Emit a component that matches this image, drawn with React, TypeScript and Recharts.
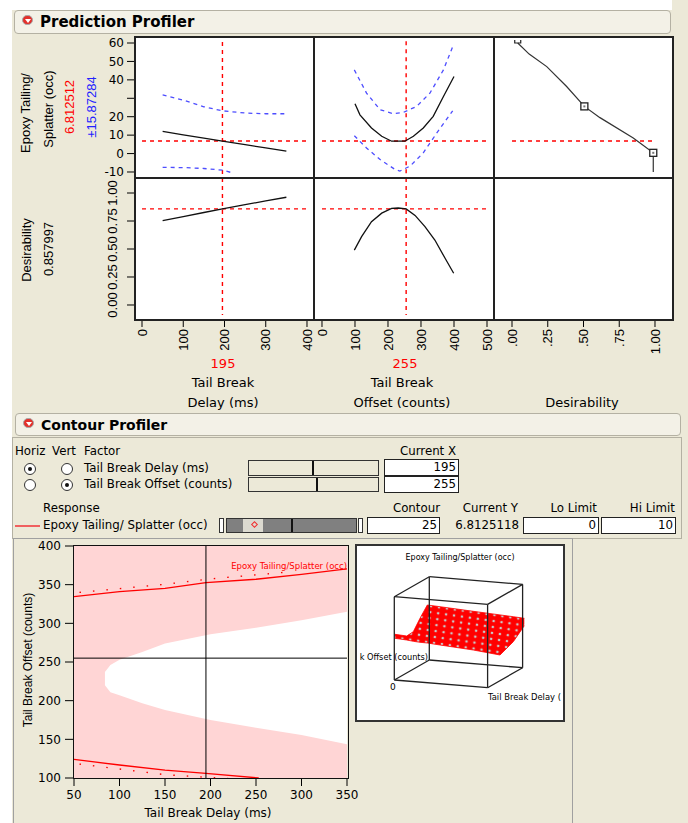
import React from "react";
import {
  LineChart,
  Line,
  XAxis,
  YAxis,
  ComposedChart,
  Area,
  ReferenceArea,
  ReferenceLine,
} from "recharts";

const BEIGE = "#ECE9D8";
const FONT = "'DejaVu Sans', sans-serif";
const NARROW = "'Liberation Sans', Arial, sans-serif";
const RED = "#FF0000";
const BLUE = "#4D4DFF";

// ---- prediction profiler values ----
const currentDelay = 195;
const currentOffset = 255;
const currentEpoxy = 6.812512;
const epoxyCI = 15.87284;
const currentDesir = 0.857997;

const delayTicks = [0, 100, 200, 300, 400];
const offsetTicks = [0, 100, 200, 300, 400, 500];
const desirTicks = [0, 0.25, 0.5, 0.75, 1];
const epoxyTicks = [-10, 0, 10, 20, 30, 40, 50, 60];
const dTicks = [0, 0.25, 0.5, 0.75, 1];

type Pt = { x: number; y: number };

// epoxy vs delay
const delayPred: Pt[] = [
  { x: 50, y: 12 }, { x: 100, y: 10.1 }, { x: 150, y: 8.4 }, { x: 195, y: 6.8 },
  { x: 250, y: 4.8 }, { x: 300, y: 3.1 }, { x: 350, y: 1.3 },
];
const delayUpper: Pt[] = [
  { x: 50, y: 31.9 }, { x: 100, y: 29 }, { x: 150, y: 25.4 }, { x: 195, y: 23.2 },
  { x: 250, y: 22 }, { x: 300, y: 21.6 }, { x: 345, y: 21.6 },
];
const delayLower: Pt[] = [
  { x: 50, y: -7.5 }, { x: 100, y: -7.6 }, { x: 150, y: -8.1 }, { x: 195, y: -9 }, { x: 220, y: -10.5 },
];

// epoxy vs offset
const offsetPred: Pt[] = [
  { x: 100, y: 27 }, { x: 115, y: 21 }, { x: 150, y: 13.9 }, { x: 181, y: 9.4 }, { x: 211, y: 6.7 },
  { x: 251, y: 6.7 }, { x: 277, y: 9.4 }, { x: 307, y: 13.9 }, { x: 337, y: 20.2 }, { x: 368, y: 31 },
  { x: 400, y: 41.8 },
];
const offsetUpper: Pt[] = [
  { x: 98, y: 45.4 }, { x: 135, y: 32.8 }, { x: 176, y: 23.8 }, { x: 216, y: 21.6 }, { x: 246, y: 22.3 },
  { x: 287, y: 25.6 }, { x: 327, y: 32.8 }, { x: 368, y: 45.4 }, { x: 396, y: 58 },
];
const offsetLower: Pt[] = [
  { x: 98, y: 9.7 }, { x: 135, y: 3 }, { x: 176, y: -3.2 }, { x: 221, y: -8.6 }, { x: 236, y: -9.5 },
  { x: 267, y: -6.8 }, { x: 307, y: 0.4 }, { x: 348, y: 11.2 }, { x: 396, y: 23.2 },
];

// desirability function (response vs desirability)
const desirCurve: Pt[] = [
  { x: 0.04, y: 60 }, { x: 0.12, y: 54 }, { x: 0.243, y: 47.2 }, { x: 0.382, y: 36.4 },
  { x: 0.506, y: 25.6 }, { x: 0.615, y: 19.5 }, { x: 0.848, y: 8.5 }, { x: 0.988, y: 0.4 },
  { x: 0.988, y: -10 },
];
const desirHandles = [
  { x: 0.04, y: 60, k: "end" },
  { x: 0.506, y: 25.6, k: "mid" },
  { x: 0.988, y: 0.4, k: "mid" },
];

// desirability vs factors
const delayDesir: Pt[] = [
  { x: 50, y: 0.753 }, { x: 100, y: 0.79 }, { x: 150, y: 0.826 }, { x: 195, y: 0.858 },
  { x: 250, y: 0.896 }, { x: 300, y: 0.929 }, { x: 350, y: 0.962 },
];
const offsetDesir: Pt[] = [
  { x: 98, y: 0.49 }, { x: 120, y: 0.61 }, { x: 150, y: 0.744 }, { x: 181, y: 0.82 }, { x: 211, y: 0.862 },
  { x: 231, y: 0.866 }, { x: 255, y: 0.858 }, { x: 282, y: 0.8 }, { x: 312, y: 0.7 }, { x: 342, y: 0.58 },
  { x: 373, y: 0.417 }, { x: 399, y: 0.283 },
];

// ---- contour profiler values ----
const cDelayTicks = [50, 100, 150, 200, 250, 300, 350];
const cOffsetTicks = [100, 150, 200, 250, 300, 350, 400];
const whiteX = [84, 90, 100, 125, 150, 200, 250, 300, 350];
const whiteLo = [220, 211, 207, 196.6, 188, 175, 165, 155.6, 143.6];
const whiteHi = [237, 246, 253, 263, 274, 286, 294.4, 304, 315];
const contourHi: Pt[] = [
  { x: 50, y: 334.5 }, { x: 100, y: 341 }, { x: 150, y: 345.3 }, { x: 195, y: 352.6 },
  { x: 250, y: 357 }, { x: 300, y: 363.4 }, { x: 350, y: 370.3 },
];
const contourHiTicks: Pt[] = [{ x: 56, y: 340 }, { x: 150, y: 350.5 }, { x: 200, y: 357.5 }, { x: 282, y: 366 }];
const contourLo: Pt[] = [
  { x: 50, y: 124 }, { x: 100, y: 116.8 }, { x: 150, y: 110.3 }, { x: 195, y: 106 }, { x: 253, y: 100 },
];
const contourLoTicks: Pt[] = [{ x: 56, y: 118 }, { x: 150, y: 104.3 }, { x: 222, y: 99 }];
const contourLevel = 25;
const currentY = "6.8125118";
const loLimit = 0;
const hiLimit = 10;

// ---- 3D surface thumbnail (projected) ----
const cubeOrigin = [39.3, 136];
const eDelay = [93.3, 7.7];
const eOffset = [35, -20];
const eResp = [0, -83.3];
const cubeEdges = [
  [[0, 0, 0], [1, 0, 0]], [[0, 1, 0], [1, 1, 0]], [[0, 0, 1], [1, 0, 1]], [[0, 1, 1], [1, 1, 1]],
  [[0, 0, 0], [0, 1, 0]], [[1, 0, 0], [1, 1, 0]], [[0, 0, 1], [0, 1, 1]], [[1, 0, 1], [1, 1, 1]],
  [[0, 0, 0], [0, 0, 1]], [[1, 0, 0], [1, 0, 1]], [[0, 1, 0], [0, 1, 1]], [[1, 1, 0], [1, 1, 1]],
];
const surfX = [40, 51.7, 58.3, 65, 72.3, 85, 118.3, 145, 158.3, 169.3];
const surfTop = [90.3, 92, 87.7, 74.3, 61, 62.7, 67.3, 70.9, 72.7, 74.3];
const surfBot = [94.3, 96, 97.3, 98.3, 99, 101, 106, 111, 97.7, 81.7];

const proj = (p: number[]) => ({
  x: cubeOrigin[0] + p[0] * eDelay[0] + p[1] * eOffset[0] + p[2] * eResp[0],
  y: cubeOrigin[1] + p[0] * eDelay[1] + p[1] * eOffset[1] + p[2] * eResp[1],
});

// ---- layout ----
const COLS = [{ left: 135, w: 179 }, { left: 314, w: 180 }, { left: 494, w: 179 }];
const ROWS = [{ top: 37, h: 141 }, { top: 178, h: 142 }];
const YW = 60;
const XH = 40;
const delayDomain = [-17, 417];
const offsetDomain = [-24.2, 521.2];
const desirDomain = [-0.126, 1.126];
const epoxyDomain = [-13.26, 63.26];
const dDomain = [-0.134, 1.134];

const line = (key: string, data: Pt[], stroke: string, dash?: string, width = 1.3) => (
  <Line
    key={key}
    data={data}
    dataKey="y"
    type="linear"
    stroke={stroke}
    strokeDasharray={dash}
    strokeWidth={width}
    dot={false}
    isAnimationActive={false}
  />
);

function XVTick(props: any) {
  const { x, y, payload, fmt } = props;
  return (
    <text x={x} y={y} transform={`rotate(-90 ${x} ${y})`} textAnchor="end" dy="0.36em"
      fontSize={13} fontFamily={NARROW} fill="#000">
      {fmt(payload.value)}
    </text>
  );
}

function YVTick(props: any) {
  const { x, y, payload } = props;
  const tx = x - 12;
  return (
    <text x={tx} y={y} transform={`rotate(-90 ${tx} ${y})`} textAnchor="middle" dy="0.36em"
      fontSize={13} fontFamily={NARROW} fill="#000">
      {payload.value.toFixed(2)}
    </text>
  );
}

function Handle(props: any) {
  const { cx, cy, payload } = props;
  if (payload.k === "end") {
    return <path d={`M${cx - 3},${cy - 3} v3 h6 v-3`} stroke="#222" fill="none" strokeWidth={1.2} />;
  }
  return (
    <g>
      <rect x={cx - 3.5} y={cy - 3.5} width={7} height={7} fill="#fff" stroke="#222" strokeWidth={1.3} />
      <rect x={cx - 1} y={cy - 1} width={2} height={2} fill="#777" />
    </g>
  );
}

function Cell({ col, row, xDomain, xTicks, xFmt, children }: any) {
  const c = COLS[col];
  const r = ROWS[row];
  const yw = col === 0 ? YW : 0;
  const xh = row === 1 ? XH : 0;
  return (
    <div style={{ position: "absolute", left: c.left - yw, top: r.top }}>
      <LineChart width={c.w + yw} height={r.h + xh} margin={{ top: 0, right: 0, bottom: 0, left: 0 }}>
        <XAxis
          type="number"
          dataKey="x"
          domain={xDomain}
          allowDataOverflow
          ticks={xTicks}
          interval={0}
          hide={row === 0}
          height={xh || 30}
          axisLine={false}
          tickSize={7}
          tickLine={{ stroke: "#000" }}
          tick={(p: any) => <XVTick {...p} fmt={xFmt} />}
        />
        <YAxis
          type="number"
          dataKey="y"
          domain={row === 0 ? epoxyDomain : dDomain}
          allowDataOverflow
          ticks={row === 0 ? epoxyTicks : dTicks}
          interval={0}
          hide={col !== 0}
          width={yw || 60}
          axisLine={false}
          tickSize={8}
          tickMargin={3}
          tickLine={{ stroke: "#000" }}
          tick={row === 0 ? { fontSize: 12, fill: "#000" } : (p: any) => <YVTick {...p} />}
          tickFormatter={(v: number) => (v === 30 ? "" : String(v))}
        />
        {children}
      </LineChart>
    </div>
  );
}

function HText({ x, y, size = 11.8, color = "#000", align = "left", weight = 400, font = FONT, children }: any) {
  const tx = align === "left" ? "0" : align === "center" ? "-50%" : "-100%";
  return (
    <div style={{
      position: "absolute", left: x, top: y, transform: `translate(${tx},-50%)`, fontSize: size, color,
      fontWeight: weight, fontFamily: font, whiteSpace: "nowrap", lineHeight: 1,
    }}>
      {children}
    </div>
  );
}

function VLabel({ x, y, size = 13, color = "#000", children }: any) {
  return (
    <div style={{
      position: "absolute", left: x, top: y, transform: "translate(-50%,-50%) rotate(-90deg)", fontSize: size,
      color, fontFamily: NARROW, whiteSpace: "nowrap", lineHeight: 1,
    }}>
      {children}
    </div>
  );
}

function Header({ x, y, w, h, title, size }: any) {
  return (
    <div style={{
      position: "absolute", left: x, top: y, width: w, height: h, boxSizing: "border-box",
      border: "1px solid #B4B1A3", borderRadius: 4, background: "#F3F1E7",
    }}>
      <div style={{
        position: "absolute", left: 7, top: 4, width: 11, height: 10, borderRadius: 5,
        background: "#E3302B", border: "1px solid #A8A8A8", boxSizing: "border-box",
      }}>
        <div style={{
          position: "absolute", left: 1.5, top: 2.5, width: 0, height: 0,
          borderLeft: "3.5px solid transparent", borderRight: "3.5px solid transparent", borderTop: "4px solid #fff",
        }} />
      </div>
      <HText x={25} y={h / 2 - 1} size={size} weight={700}>{title}</HText>
    </div>
  );
}

function Box({ x, y, w, h, children }: any) {
  return (
    <div style={{
      position: "absolute", left: x, top: y, width: w, height: h, boxSizing: "border-box",
      border: "1px solid #222", background: "#fff", fontSize: 11.8, textAlign: "right",
      paddingRight: 2, lineHeight: `${h - 2}px`, fontFamily: FONT,
    }}>
      {children}
    </div>
  );
}

function Slider({ x, y, w, h, mark }: any) {
  return (
    <div style={{
      position: "absolute", left: x, top: y, width: w, height: h, boxSizing: "border-box",
      border: "1px solid #333", background: BEIGE,
    }}>
      <div style={{ position: "absolute", left: mark - x - 1, top: 0, width: 2, height: h - 2, background: "#111" }} />
    </div>
  );
}

function Radio({ x, y, on }: any) {
  return (
    <div style={{
      position: "absolute", left: x - 6, top: y - 6, width: 12, height: 12, borderRadius: 6,
      border: "1px solid #333", background: "#fff", boxSizing: "border-box",
    }}>
      {on && <div style={{ position: "absolute", left: 3, top: 3, width: 4, height: 4, borderRadius: 2, background: "#111" }} />}
    </div>
  );
}

const vRed = (key: string, x: number, y1: number, y2: number) =>
  line(key, [{ x, y: y1 }, { x, y: y2 }], RED, "4 4", 1.4);
const hRed = (key: string, y: number, x1: number, x2: number) =>
  line(key, [{ x: x1, y }, { x: x2, y }], RED, "4 4", 1.4);

const fmtInt = (v: number) => String(v);
const fmtDesir = (v: number) => (v === 1 ? "1.00" : v.toFixed(2).replace(/^0/, ""));

export default function App() {
  const whiteData = whiteX.map((x, i) => ({ x, range: [whiteLo[i], whiteHi[i]] }));
  const surfData = surfX.map((x, i) => ({ x, range: [surfTop[i], surfBot[i]] }));
  const edgeData = cubeEdges.map((e) => e.map(proj));

  return (
    <div style={{
      position: "absolute", left: 0, top: 0, width: 688, height: 823, background: "#fff",
      overflow: "hidden", fontFamily: FONT, color: "#000",
    }}>
      <div style={{ position: "absolute", left: 12, top: 10, width: 676, height: 813, background: BEIGE }} />
      <div style={{ position: "absolute", left: 672, top: 0, width: 16, height: 10, background: BEIGE }} />

      <Header x={14} y={10} w={657} h={24} title="Prediction Profiler" size={15} />

      {/* profiler cells */}
      <div style={{ position: "absolute", left: 135, top: 37, width: 538, height: 283, background: "#fff" }} />

      <Cell col={0} row={0} xDomain={delayDomain} xTicks={delayTicks} xFmt={fmtInt}>
        {hRed("h", currentEpoxy, 0, 400)}
        {vRed("v", currentDelay, 60.5, epoxyDomain[0])}
        {line("u", delayUpper, BLUE, "4 4")}
        {line("l", delayLower, BLUE, "4 4")}
        {line("p", delayPred, "#111")}
      </Cell>
      <Cell col={1} row={0} xDomain={offsetDomain} xTicks={offsetTicks} xFmt={fmtInt}>
        {hRed("h", currentEpoxy, 0, 500)}
        {vRed("v", currentOffset, 61, epoxyDomain[0])}
        {line("u", offsetUpper, BLUE, "4 4")}
        {line("l", offsetLower, BLUE, "4 4")}
        {line("p", offsetPred, "#111")}
      </Cell>
      <Cell col={2} row={0} xDomain={desirDomain} xTicks={desirTicks} xFmt={fmtDesir}>
        {hRed("h", currentEpoxy, 0, 1)}
        {line("d", desirCurve, "#333", undefined, 1.2)}
        <Line key="hd" data={desirHandles} dataKey="y" stroke="none" dot={(p: any) => <Handle key={p.index} {...p} />} isAnimationActive={false} />
      </Cell>
      <Cell col={0} row={1} xDomain={delayDomain} xTicks={delayTicks} xFmt={fmtInt}>
        {hRed("h", currentDesir, 0, 400)}
        {vRed("v", currentDelay, dDomain[1], -0.09)}
        {line("p", delayDesir, "#111")}
      </Cell>
      <Cell col={1} row={1} xDomain={offsetDomain} xTicks={offsetTicks} xFmt={fmtInt}>
        {hRed("h", currentDesir, 0, 500)}
        {vRed("v", currentOffset, dDomain[1], -0.09)}
        {line("p", offsetDesir, "#111")}
      </Cell>
      <Cell col={2} row={1} xDomain={desirDomain} xTicks={desirTicks} xFmt={fmtDesir}>
        {line("e", [{ x: 0, y: -1 }, { x: 1, y: -1 }], "none")}
      </Cell>

      {/* cell frame */}
      <div style={{ position: "absolute", left: 134, top: 36, width: 540, height: 285, border: "2px solid #222", boxSizing: "border-box" }} />
      <div style={{ position: "absolute", left: 313, top: 37, width: 2, height: 283, background: "#222" }} />
      <div style={{ position: "absolute", left: 493, top: 37, width: 2, height: 283, background: "#222" }} />
      <div style={{ position: "absolute", left: 135, top: 177, width: 538, height: 2, background: "#222" }} />

      {/* profiler labels */}
      <VLabel x={25} y={113}>Epoxy Tailing/</VLabel>
      <VLabel x={47.5} y={109}>Splatter (occ)</VLabel>
      <VLabel x={68.5} y={107} color={RED}>{currentEpoxy.toFixed(6)}</VLabel>
      <VLabel x={91} y={107} color="#2222FF">±{epoxyCI}</VLabel>
      <VLabel x={25.5} y={250}>Desirability</VLabel>
      <VLabel x={47.5} y={249}>{currentDesir}</VLabel>

      <HText x={223} y={363} size={13} color={RED} align="center">{currentDelay}</HText>
      <HText x={223} y={382} size={13} align="center">Tail Break</HText>
      <HText x={223} y={402} size={13} align="center">Delay (ms)</HText>
      <HText x={405} y={363} size={13} color={RED} align="center">{currentOffset}</HText>
      <HText x={402} y={382} size={13} align="center">Tail Break</HText>
      <HText x={402} y={402} size={13} align="center">Offset (counts)</HText>
      <HText x={582} y={402} size={13} align="center">Desirability</HText>

      {/* contour profiler */}
      <Header x={15} y={413} w={666} h={23} title="Contour Profiler" size={14} />
      <div style={{ position: "absolute", left: 12, top: 437, width: 670, height: 102, border: "1px solid #B4B1A3", boxSizing: "border-box" }} />

      <HText x={15} y={452}>Horiz</HText>
      <HText x={52} y={452}>Vert</HText>
      <HText x={84} y={452}>Factor</HText>
      <HText x={428} y={452} align="center">Current X</HText>

      <Radio x={30} y={469} on />
      <Radio x={67} y={469} />
      <Radio x={30} y={485} />
      <Radio x={67} y={485} on />
      <HText x={84} y={469}>Tail Break Delay (ms)</HText>
      <HText x={84} y={485}>Tail Break Offset (counts)</HText>
      <Slider x={248} y={460} w={131} h={16} mark={312} />
      <Slider x={248} y={477} w={131} h={15} mark={316} />
      <Box x={384} y={459} w={75} h={17}>{currentDelay}</Box>
      <Box x={384} y={476} w={75} h={17}>{currentOffset}</Box>

      <HText x={43} y={509}>Response</HText>
      <HText x={440} y={509} align="right">Contour</HText>
      <HText x={518} y={509} align="right">Current Y</HText>
      <HText x={597} y={509} align="right">Lo Limit</HText>
      <HText x={675} y={509} align="right">Hi Limit</HText>

      <div style={{ position: "absolute", left: 15, top: 525, width: 25, height: 2, background: "#F06060" }} />
      <HText x={43} y={526}>Epoxy Tailing/ Splatter (occ)</HText>
      <div style={{ position: "absolute", left: 219, top: 518, width: 5, height: 15, border: "1px solid #333", background: "#fff", boxSizing: "border-box" }} />
      <div style={{ position: "absolute", left: 226, top: 518, width: 131, height: 15, border: "1px solid #333", background: "#808080", boxSizing: "border-box" }}>
        <div style={{ position: "absolute", left: 16, top: 0, width: 20, height: 13, background: "#DCDAD0" }} />
        <div style={{ position: "absolute", left: 25, top: 3, width: 5, height: 5, border: "1.3px solid #F03030", transform: "rotate(45deg)", boxSizing: "border-box" }} />
        <div style={{ position: "absolute", left: 64, top: 0, width: 2, height: 13, background: "#111" }} />
      </div>
      <div style={{ position: "absolute", left: 358, top: 518, width: 5, height: 15, border: "1px solid #333", background: "#fff", boxSizing: "border-box" }} />
      <Box x={367} y={517} w={73} h={17}>{contourLevel}</Box>
      <HText x={519} y={526} align="right">{currentY}</HText>
      <Box x={523} y={517} w={76} h={17}>{loLimit}</Box>
      <Box x={601} y={517} w={75} h={17}>{hiLimit}</Box>

      {/* lower frame */}
      <div style={{ position: "absolute", left: 13, top: 538, width: 560, height: 290, border: "1px solid #A0A0A0", boxSizing: "border-box" }} />

      {/* contour plot */}
      <div style={{ position: "absolute", left: 18, top: 538 }}>
        <ComposedChart width={341} height={270} margin={{ top: 8, right: 12, bottom: 0, left: 0 }}>
          <XAxis type="number" dataKey="x" domain={[50, 350]} allowDataOverflow ticks={cDelayTicks} interval={0}
            height={30} axisLine={false} tickSize={8} tickMargin={4} tickLine={{ stroke: "#000" }}
            tick={{ fontSize: 12, fill: "#000" }} />
          <YAxis type="number" domain={[100, 400]} allowDataOverflow ticks={cOffsetTicks} interval={0}
            width={56} axisLine={false} tickSize={9} tickMargin={4} tickLine={{ stroke: "#000" }}
            tick={{ fontSize: 12, fill: "#000" }} />
          <ReferenceArea x1={50} x2={350} y1={100} y2={400} fill="#FFD5D5" fillOpacity={1} stroke="none" ifOverflow="visible" />
          <Area data={whiteData} dataKey="range" type="linear" fill="#fff" fillOpacity={1} stroke="none" isAnimationActive={false} />
          {line("ch", contourHi, RED, undefined, 1.3)}
          {line("cht", contourHiTicks, RED, "1.5 12", 1.4)}
          {line("cl", contourLo, RED, undefined, 1.3)}
          {line("clt", contourLoTicks, RED, "1.5 12", 1.4)}
          <ReferenceLine x={currentDelay} stroke="#000" strokeWidth={1} />
          <ReferenceLine y={currentOffset} stroke="#000" strokeWidth={1} />
        </ComposedChart>
      </div>
      <div style={{ position: "absolute", left: 73, top: 545, width: 276, height: 234, border: "1px solid #111", boxSizing: "border-box" }} />
      <HText x={347} y={566} size={8.5} color={RED} align="right">Epoxy Tailing/Splatter (occ)</HText>
      <VLabel x={28} y={660} size={12}>Tail Break Offset (counts)</VLabel>
      <HText x={208} y={813} size={12} align="center">Tail Break Delay (ms)</HText>

      {/* 3D surface thumbnail */}
      <div style={{
        position: "absolute", left: 355, top: 544, width: 210, height: 178, border: "2px solid #333",
        boxSizing: "border-box", background: "#fff", overflow: "hidden",
      }}>
        <div style={{ position: "absolute", left: -2, top: -2 }}>
          <ComposedChart width={210} height={178} margin={{ top: 0, right: 0, bottom: 0, left: 0 }}>
            <defs>
              <pattern id="dots" width="8" height="6" patternUnits="userSpaceOnUse" patternTransform="rotate(8)">
                <rect width="8" height="6" fill="#FF0000" />
                <circle cx="4" cy="3" r="1.3" fill="#C8C8C8" />
              </pattern>
            </defs>
            <XAxis type="number" dataKey="x" domain={[0, 210]} allowDataOverflow hide />
            <YAxis type="number" domain={[0, 178]} allowDataOverflow reversed hide />
            <Area data={surfData} dataKey="range" type="linear" fill="url(#dots)" fillOpacity={1} stroke="#FF0000" strokeWidth={0.8} isAnimationActive={false} />
            {edgeData.map((d, i) => line(`e${i}`, d, "#222", undefined, 1.3))}
          </ComposedChart>
        </div>
        <HText x={103} y={12} size={8} align="center">Epoxy Tailing/Splatter (occ)</HText>
        <HText x={71} y={111} size={8.2} align="right">k Offset (counts)</HText>
        <HText x={33} y={141} size={9}>0</HText>
        <HText x={131} y={151} size={8.4}>Tail Break Delay (</HText>
      </div>
      <div style={{ position: "absolute", left: 572, top: 538, width: 1, height: 285, background: "#A0A0A0" }} />
    </div>
  );
}
